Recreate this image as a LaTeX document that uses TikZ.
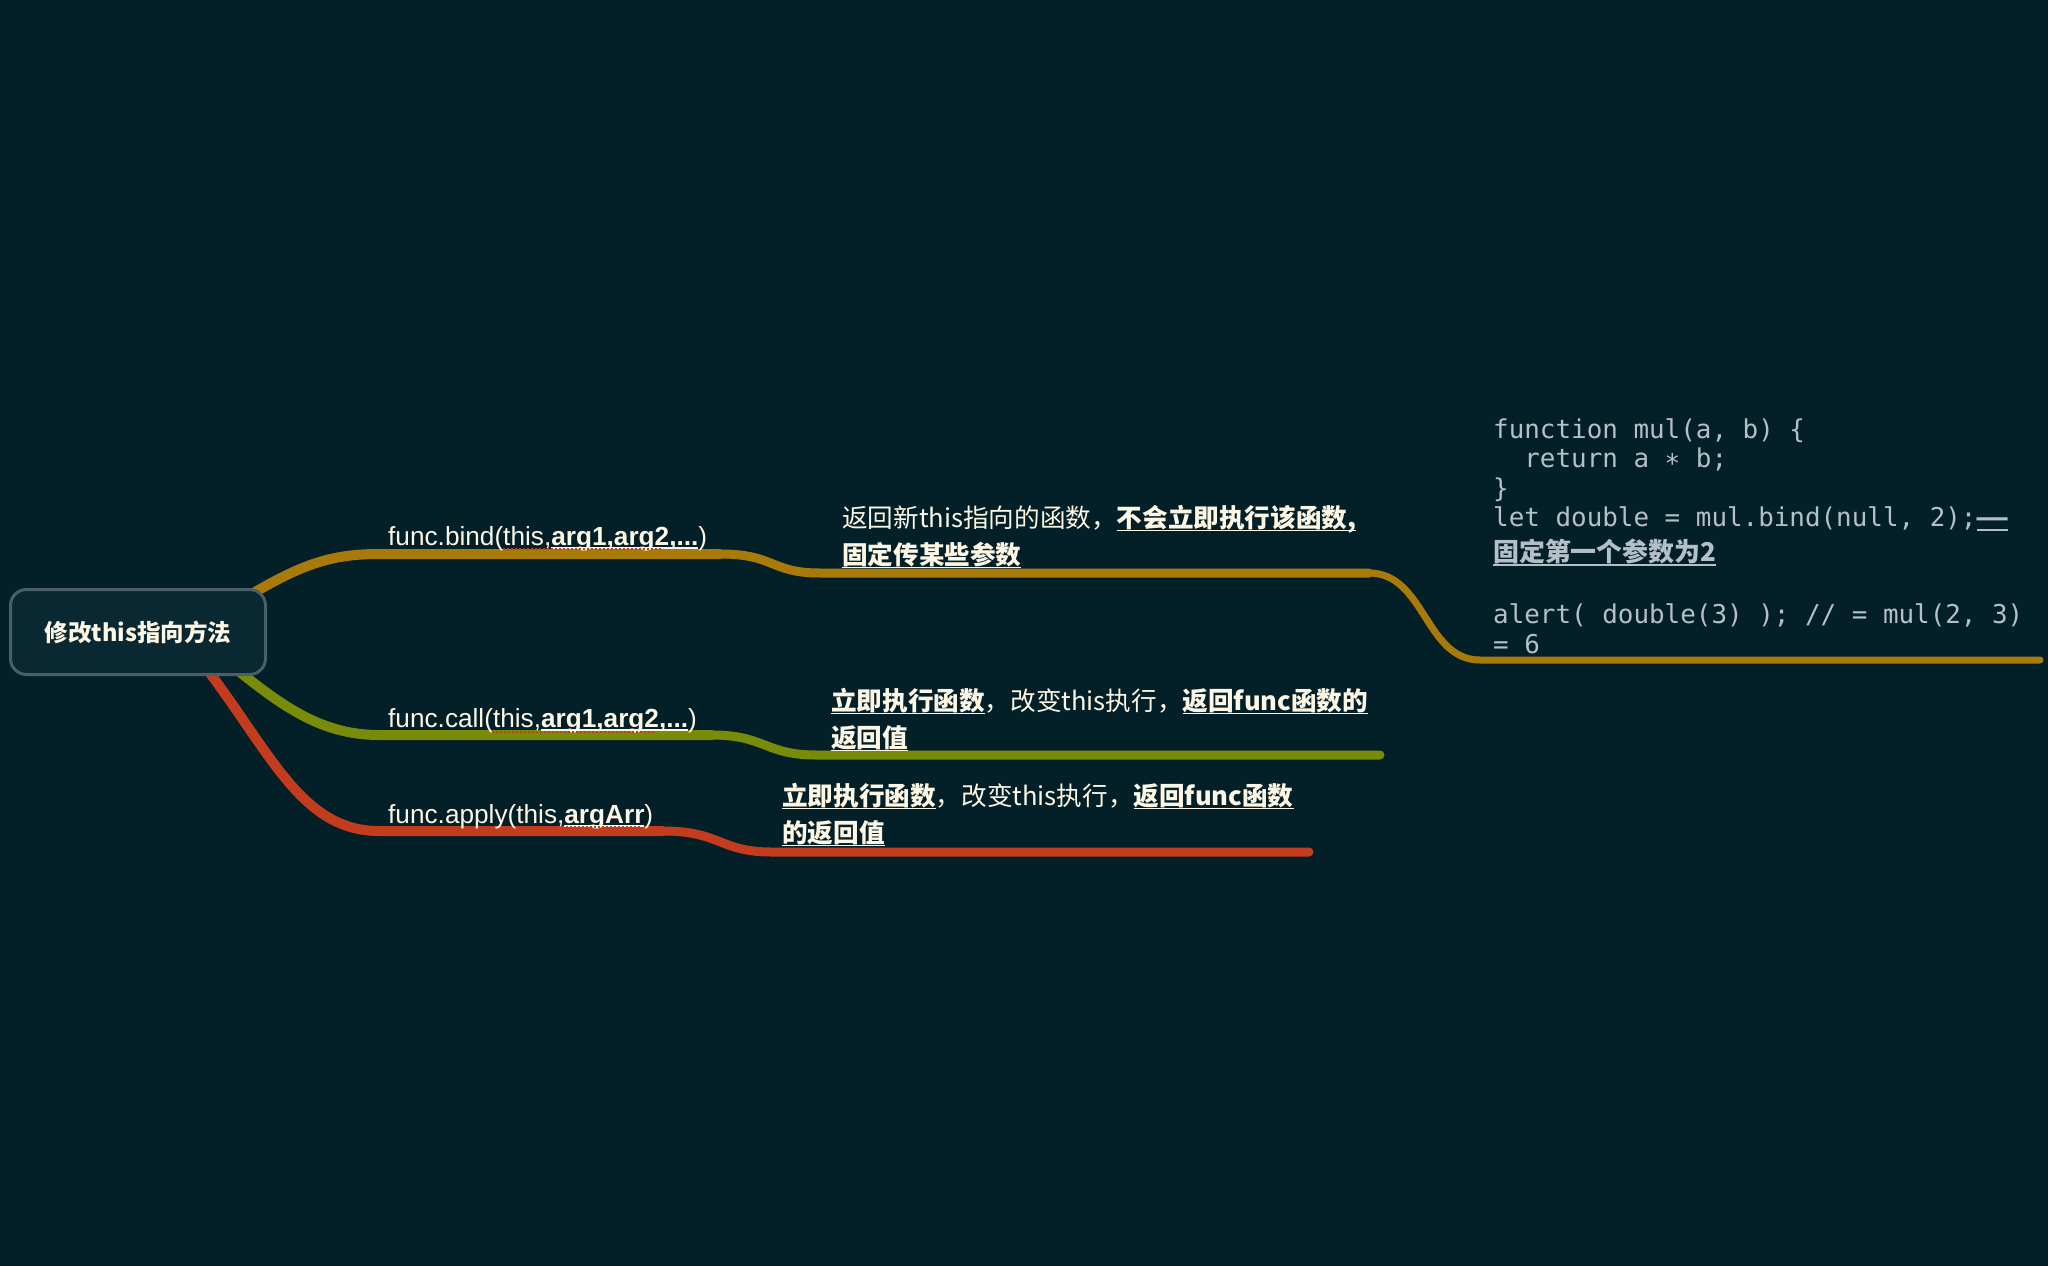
\documentclass[tikz,border=0pt]{standalone}
\usepackage{fontspec}
\setmainfont{Liberation Sans}
\newfontfamily\cjk{Noto Sans CJK SC}
\newfontfamily\codefont{DejaVu Sans Mono}
\definecolor{bg}{RGB}{3,31,40}
\definecolor{nodefill}{RGB}{10,40,50}
\definecolor{nodeborder}{RGB}{75,95,105}
\definecolor{cream}{RGB}{252,246,228}
\definecolor{goldc}{RGB}{168,122,10}
\definecolor{olivec}{RGB}{120,140,10}
\definecolor{rustc}{RGB}{196,60,30}
\definecolor{codegray}{RGB}{180,192,200}
\newcommand\myul[1]{\setbox0\hbox{#1}\rlap{\rule[-4pt]{\wd0}{1.8pt}}\box0}
\tikzset{
  lvlone/.style={line width=10pt, line cap=round},
  lvltwo/.style={line width=9pt, line cap=round},
  lvlthree/.style={line width=7pt, line cap=round},
  rootbox/.style={draw=nodeborder, line width=3pt, fill=nodefill, rounded corners=16pt,
    minimum width=255pt, minimum height=85pt, text=cream, inner sep=0pt,
    font=\cjk\bfseries\fontsize{23.5}{28}\selectfont},
  functext/.style={anchor=base west, inner sep=0pt, text=cream, font=\fontsize{26.2}{30}\selectfont},
  desctext/.style={anchor=north west, inner sep=0pt, text=cream, align=left,
    font=\cjk\fontsize{25.6}{37}\selectfont},
  codetext/.style={anchor=north west, inner sep=0pt, text=codegray, align=left,
    font=\codefont\fontsize{25.9}{29.5}\selectfont},
  spell/.style={rustc, line width=2pt, dash pattern=on 2pt off 2pt}
}
\begin{document}
\begin{tikzpicture}[x=1pt,y=-1pt]
\fill[bg] (0,0) rectangle (2048,1266);
\useasboundingbox (0,0) rectangle (2048,1266);
% anchor coordinates
\coordinate (rootG) at (245,598);
\coordinate (rootO) at (225,660);
\coordinate (rootR) at (200,660);
\coordinate (bindA) at (379,554);
\coordinate (bindB) at (720,554);
\coordinate (bindC) at (820,573);
\coordinate (bindD) at (1369,573);
\coordinate (bindE) at (1480,660);
\coordinate (bindF) at (2040,660);
\coordinate (callA) at (379,735);
\coordinate (callB) at (712,735);
\coordinate (callC) at (816,755);
\coordinate (callD) at (1380,755);
\coordinate (applyA) at (379,831);
\coordinate (applyB) at (663,831);
\coordinate (applyC) at (771,852);
\coordinate (applyD) at (1309,852);
% branches
\draw[lvlone, goldc] (rootG) .. controls (300,565) and (330,554) .. (bindA) -- (bindB);
\draw[lvltwo, goldc] (bindB) .. controls (775,554) and (770,573) .. (bindC) -- (bindD);
\draw[lvlthree, goldc] (bindD) .. controls (1425,573) and (1425,660) .. (bindE) -- (bindF);
\draw[lvlone, olivec] (rootO) .. controls (280,705) and (320,735) .. (callA) -- (callB);
\draw[lvltwo, olivec] (callB) .. controls (765,735) and (765,755) .. (callC) -- (callD);
\draw[lvlone, rustc] (rootR) .. controls (270,750) and (300,831) .. (applyA) -- (applyB);
\draw[lvltwo, rustc] (applyB) .. controls (720,831) and (720,852) .. (applyC) -- (applyD);
% root
\node[rootbox] (root) at (138,632) {修改this指向方法};
% first level texts
\node[functext] (tbind) at (388,545) {func.bind(this,\myul{\bfseries arg1,arg2,...})};
\node[functext] (tcall) at (388,727) {func.call(this,\myul{\bfseries arg1,arg2,...})};
\node[functext] (tapply) at (388,823) {func.apply(this,\myul{\bfseries argArr})};
\draw[spell] (503,549) -- (663,549);
\draw[spell] (492,732) -- (655,732);
\draw[spell] (518,827) -- (640,827);
% second level texts
\node[desctext] (dbind) at (842,505) {返回新this指向的函数，\myul{\bfseries 不会立即执行该函数,}\\\myul{\bfseries 固定传某些参数}};
\node[desctext] (dcall) at (831,688) {\myul{\bfseries 立即执行函数}，改变this执行，\myul{\bfseries 返回func函数的}\\\myul{\bfseries 返回值}};
\node[desctext] (dapply) at (782,783) {\myul{\bfseries 立即执行函数}，改变this执行，\myul{\bfseries 返回func函数}\\\myul{\bfseries 的返回值}};
% code
\node[codetext] (code) at (1493,418) {function mul(a, b) \{\\
\phantom{xx}return a ∗ b;\\
\}\\
let double = mul.bind(null, 2);\myul{\bfseries ——}\\[5.5pt]
\myul{\cjk\bfseries 固定第一个参数为2}\\[32.5pt]
alert( double(3) ); // = mul(2, 3)\\
= 6};
\end{tikzpicture}
\end{document}
